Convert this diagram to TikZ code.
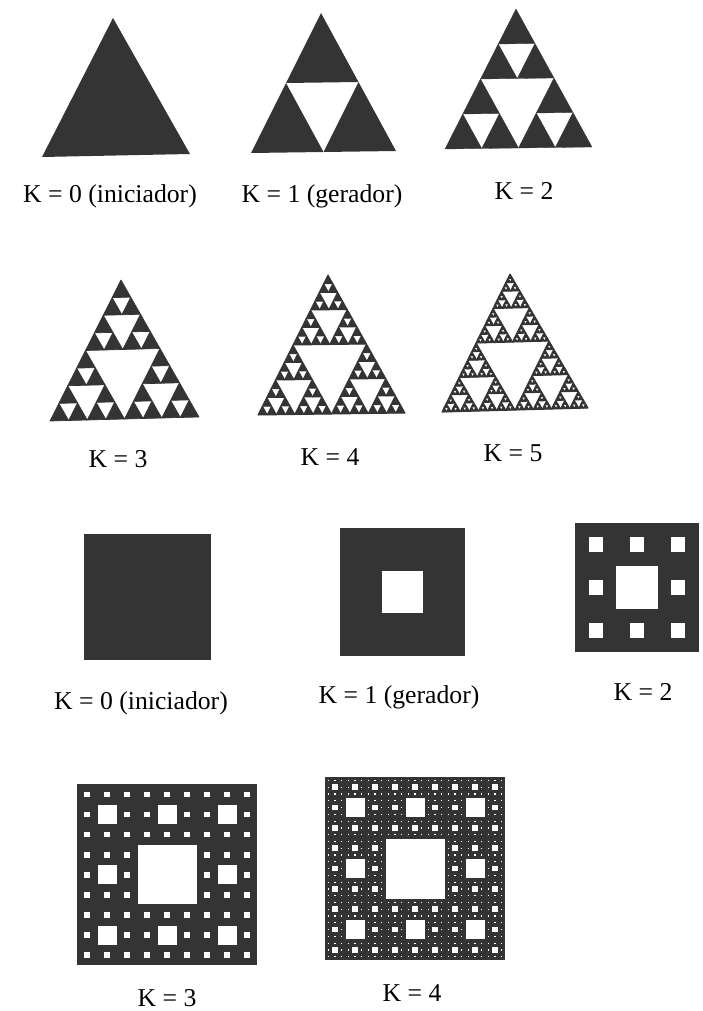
\documentclass[tikz,border=0pt]{standalone}
\usepackage{fontspec}
\setmainfont{Liberation Serif}
\usepackage{xcolor}
\usepackage{tikz}
\definecolor{ink}{RGB}{52,52,52}

% Sierpinski triangle in local coords: (x,y) corner, size s
\newcommand\sierptri[4]{%
  \ifnum#1=0
    \fill[piece] (#2,#3) -- ++(#4,0) -- ++(-#4,#4) -- cycle;
  \else
    \begingroup
    \pgfmathsetmacro\hs{#4/2}%
    \pgfmathsetmacro\xs{#2+\hs}%
    \pgfmathsetmacro\ys{#3+\hs}%
    \edef\sierpnext{%
      \noexpand\sierptri{\the\numexpr#1-1\relax}{#2}{#3}{\hs}%
      \noexpand\sierptri{\the\numexpr#1-1\relax}{\xs}{#3}{\hs}%
      \noexpand\sierptri{\the\numexpr#1-1\relax}{#2}{\ys}{\hs}}%
    \sierpnext
    \endgroup
  \fi}
% level, apex x y, left x y, right x y
\newcommand\sierpinski[8][]{%
  \pgfmathsetmacro\lxv{#5-#3}\pgfmathsetmacro\lyv{#4-#6}%
  \pgfmathsetmacro\rxv{#7-#3}\pgfmathsetmacro\ryv{#4-#8}%
  \begin{scope}[shift={(#3,#4)},x={(\lxv pt,\lyv pt)},y={(\rxv pt,\ryv pt)},#1]
    \sierptri{#2}{0}{0}{1}
  \end{scope}}

% Sierpinski carpet holes in local coords
\newcommand\carpetholes[4]{%
  \ifnum#1>0
    \begingroup
    \pgfmathsetmacro\ts{#4/3}%
    \fill[hole] (#2+\ts,#3+\ts) rectangle ++(\ts,\ts);
    \ifnum#1>1
      \foreach \ci/\cj in {0/0,1/0,2/0,0/1,2/1,0/2,1/2,2/2}{%
        \pgfmathsetmacro\nx{#2+\ci*\ts}\pgfmathsetmacro\ny{#3+\cj*\ts}%
        \edef\carpnext{\noexpand\carpetholes{\the\numexpr#1-1\relax}{\nx}{\ny}{\ts}}\carpnext}%
    \fi
    \endgroup
  \fi}
% level, left, top, right, bottom
\newcommand\carpet[6][]{%
  \fill[piece] (#3,#4) rectangle (#5,#6);
  \pgfmathsetmacro\wv{#5-#3}\pgfmathsetmacro\hv{#4-#6}%
  \begin{scope}[shift={(#3,#4)},x={(\wv pt,0pt)},y={(0pt,\hv pt)},#1]
    \carpetholes{#2}{0}{0}{1}
  \end{scope}}

\begin{document}
\begin{tikzpicture}[x=1pt,y=-1pt]
\tikzset{piece/.style={fill=ink},hole/.style={fill=white},
  fine/.style={piece/.append style={draw=ink,line width=#1,line join=round}},
  tight/.style={hole/.append style={draw=ink,line width=#1}},
  lab/.style={anchor=base,inner sep=0pt,font=\fontsize{25.7}{30}\selectfont}}
\useasboundingbox (0,0) rectangle (702,1011);
% triangles
\sierpinski{0}{113}{18}{42}{157}{190}{154}
\sierpinski{1}{321}{13}{251}{153}{396}{151}
\sierpinski[fine=0.3pt]{2}{516}{9}{445}{149}{592}{147}
\sierpinski[fine=0.7pt]{3}{121}{280}{50}{421}{199}{417}
\sierpinski[fine=1pt]{4}{328}{275}{258}{415}{405}{413}
\sierpinski[fine=1.1pt]{5}{510}{274}{442}{412}{588}{408}
\node[lab] (t0) at (110,202) {K = 0 (iniciador)};
\node[lab] (t1) at (322,202) {K = 1 (gerador)};
\node[lab] (t2) at (524,199) {K = 2};
\node[lab] (t3) at (118,467) {K = 3};
\node[lab] (t4) at (330,465) {K = 4};
\node[lab] (t5) at (513,461) {K = 5};
% carpets
\carpet{0}{84}{534}{211}{660}
\carpet{1}{340}{528}{465}{656}
\carpet{2}{575}{523}{699}{652}
\carpet[tight=0.4pt]{3}{77}{784}{257}{965}
\carpet[tight=0.8pt]{4}{325}{777}{505}{960}
\node[lab] (c0) at (141,709) {K = 0 (iniciador)};
\node[lab] (c1) at (399,703) {K = 1 (gerador)};
\node[lab] (c2) at (643,700) {K = 2};
\node[lab] (c3) at (167,1006) {K = 3};
\node[lab] (c4) at (412,1001) {K = 4};
\end{tikzpicture}
\end{document}
